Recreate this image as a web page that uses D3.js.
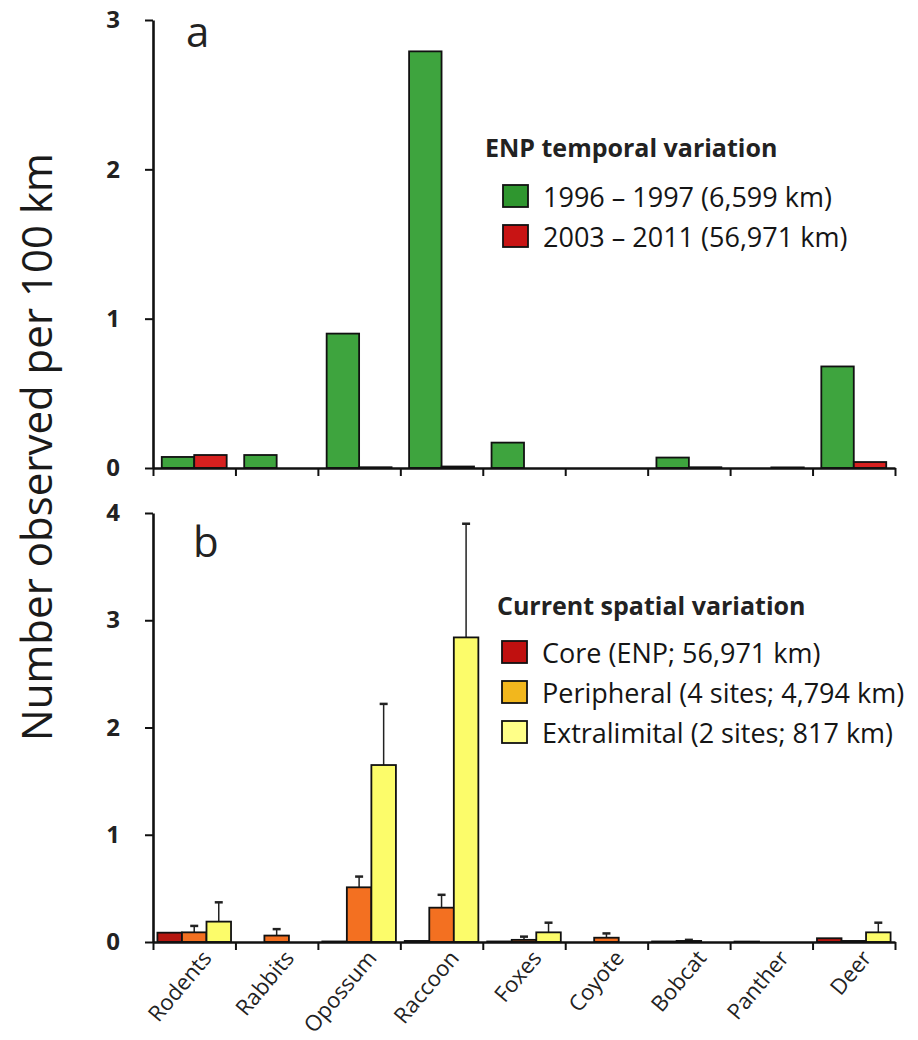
<!DOCTYPE html>
<html>
<head>
<meta charset="utf-8">
<script src="https://cdn.jsdelivr.net/npm/d3@7"></script>
<style>
    body { margin: 0; background: #fff; }
    svg { font-family: 'Open Sans', sans-serif; }
</style>
</head>
<body>
<svg width="918" height="1040"></svg>
<script>
// categories shared by both panels
let categories = ['Rodents', 'Rabbits', 'Opossum', 'Raccoon', 'Foxes', 'Coyote', 'Bobcat', 'Panther', 'Deer'];

// panel a - ENP temporal variation
let seriesA = ['1996 – 1997 (6,599 km)', '2003 – 2011 (56,971 km)'];
let values1996 = [0.074, 0.087, 0.9, 2.79, 0.17, 0, 0.07, 0, 0.68];
let values2003 = [0.087, 0, 0.005, 0.01, 0, 0, 0.005, 0.004, 0.04];
let ticksA = [0, 1, 2, 3];

// panel b - current spatial variation
let seriesB = ['Core (ENP; 56,971 km)', 'Peripheral (4 sites; 4,794 km)', 'Extralimital (2 sites; 817 km)'];
let valuesCore = [0.087, 0, 0.005, 0.01, 0.005, 0, 0.005, 0.004, 0.035];
let valuesPeripheral = [0.09, 0.06, 0.51, 0.32, 0.02, 0.04, 0.01, 0, 0.01];
let errPeripheral = [0.06, 0.06, 0.1, 0.12, 0.03, 0.04, 0.01, 0, 0];
let valuesExtralimital = [0.19, 0, 1.65, 2.84, 0.09, 0, 0, 0, 0.09];
let errExtralimital = [0.18, 0, 0.57, 1.06, 0.09, 0, 0, 0, 0.09];
let ticksB = [0, 1, 2, 3, 4];

function main() {
    let svg = d3.select('svg'),
        left = 153,
        right = 895;

    let colorsA = ['#3ea43e', '#d7201f'],
        colorsB = ['#b5160f', '#f37021', '#fcfc6a'],
        legendColorsA = ['#2f962f', '#c81414'],
        legendColorsB = ['#c0100f', '#f2b71d', '#ffff88'];

    //Scales
    let x0 = d3.scaleBand().domain(categories).range([left, right]).padding(0),
        xEdge = d3.scaleLinear().domain([0, categories.length]).range([left, right]),
        xA = d3.scaleBand().domain(seriesA).range([0, x0.bandwidth()]).paddingOuter(0.27),
        xB = d3.scaleBand().domain(seriesB).range([0, x0.bandwidth()]).paddingOuter(0.18),
        yA = d3.scaleLinear().domain([0, 3]).range([468, 20]),
        yB = d3.scaleLinear().domain([0, 4]).range([942, 513]);

    //Build rows
    let rowsA = [];
    categories.forEach((c, i) => {
        rowsA.push({ cat: c, s: seriesA[0], v: values1996[i], color: colorsA[0] });
        rowsA.push({ cat: c, s: seriesA[1], v: values2003[i], color: colorsA[1] });
    });
    let rowsB = [];
    categories.forEach((c, i) => {
        rowsB.push({ cat: c, s: seriesB[0], v: valuesCore[i], e: 0, color: colorsB[0] });
        rowsB.push({ cat: c, s: seriesB[1], v: valuesPeripheral[i], e: errPeripheral[i], color: colorsB[1] });
        rowsB.push({ cat: c, s: seriesB[2], v: valuesExtralimital[i], e: errExtralimital[i], color: colorsB[2] });
    });

    //Panel a bars
    svg.append('g')
        .selectAll('rect')
        .data(rowsA.filter((d) => d.v > 0))
        .enter()
        .append('rect')
        .attr('x', (d) => x0(d.cat) + xA(d.s))
        .attr('y', (d) => yA(d.v))
        .attr('width', xA.bandwidth())
        .attr('height', (d) => yA(0) - yA(d.v))
        .attr('fill', (d) => d.color)
        .attr('stroke', '#111')
        .attr('stroke-width', 1.8);

    //Panel b error bars
    let errs = svg.append('g')
        .selectAll('g')
        .data(rowsB.filter((d) => d.e > 0))
        .enter()
        .append('g')
        .attr('stroke', '#222')
        .attr('stroke-width', 1.5);
    errs.append('line')
        .attr('x1', (d) => x0(d.cat) + xB(d.s) + xB.bandwidth() / 2)
        .attr('x2', (d) => x0(d.cat) + xB(d.s) + xB.bandwidth() / 2)
        .attr('y1', (d) => yB(d.v))
        .attr('y2', (d) => yB(d.v + d.e));
    errs.append('line')
        .attr('x1', (d) => x0(d.cat) + xB(d.s) + xB.bandwidth() / 2 - 4)
        .attr('x2', (d) => x0(d.cat) + xB(d.s) + xB.bandwidth() / 2 + 4)
        .attr('y1', (d) => yB(d.v + d.e))
        .attr('y2', (d) => yB(d.v + d.e))
        .attr('stroke-width', 2.5);

    //Panel b bars
    svg.append('g')
        .selectAll('rect')
        .data(rowsB.filter((d) => d.v > 0))
        .enter()
        .append('rect')
        .attr('x', (d) => x0(d.cat) + xB(d.s))
        .attr('y', (d) => yB(d.v))
        .attr('width', xB.bandwidth())
        .attr('height', (d) => yB(0) - yB(d.v))
        .attr('fill', (d) => d.color)
        .attr('stroke', '#111')
        .attr('stroke-width', 1.8);

    //Axes
    function styleAxis(g) {
        g.select('.domain').attr('stroke', '#111').attr('stroke-width', 2.6);
        g.selectAll('.tick line').attr('stroke', '#111').attr('stroke-width', 2);
        g.selectAll('.tick text')
            .attr('fill', '#222')
            .style('font-size', '24px')
            .style('font-weight', 'bold')
            .style('font-family', "'Open Sans', sans-serif");
    }

    [[yA, ticksA], [yB, ticksB]].forEach(([y, t]) => {
        svg.append('g')
            .attr('transform', 'translate(' + left + ',0)')
            .call(d3.axisLeft(y).tickValues(t).tickFormat(d3.format('d')).tickSize(8).tickPadding(25).tickSizeOuter(0))
            .call(styleAxis);
        svg.append('g')
            .attr('transform', 'translate(0,' + y(0) + ')')
            .call(d3.axisBottom(xEdge).tickValues(d3.range(categories.length + 1)).tickFormat('').tickSize(8).tickSizeOuter(0))
            .call(styleAxis);
    });

    //Category labels
    svg.append('g')
        .selectAll('text')
        .data(categories)
        .enter()
        .append('text')
        .attr('transform', (d) => 'translate(' + (x0(d) + x0.bandwidth() / 2 + 6) + ',' + (yB(0) + 6) + ') rotate(-50)')
        .attr('text-anchor', 'end')
        .attr('dy', '0.75em')
        .attr('fill', '#222')
        .style('font-size', '22px')
        .text((d) => d);

    //Panel letters
    svg.append('text').attr('x', 186).attr('y', 47).style('font-size', '42px').attr('fill', '#222').text('a');
    svg.append('text').attr('x', 193).attr('y', 557).style('font-size', '42px').attr('fill', '#222').text('b');

    //Y title
    svg.append('text')
        .attr('transform', 'translate(52,447) rotate(-90)')
        .attr('text-anchor', 'middle')
        .attr('fill', '#1a1a1a')
        .style('font-size', '42px')
        .text('Number observed per 100 km');

    //Legends
    function legend(x, y, title, labels, colors, swatchX, textX, rowY) {
        let g = svg.append('g').attr('transform', 'translate(' + x + ',' + y + ')');
        g.append('text')
            .attr('fill', '#222')
            .style('font-size', '25px')
            .style('font-weight', 'bold')
            .text(title);
        labels.forEach((l, i) => {
            g.append('rect')
                .attr('x', swatchX)
                .attr('y', rowY + i * 40)
                .attr('width', 25)
                .attr('height', 22)
                .attr('fill', colors[i])
                .attr('stroke', '#111')
                .attr('stroke-width', 1.8);
            g.append('text')
                .attr('x', textX)
                .attr('y', rowY + 22 + i * 40)
                .attr('fill', '#151515')
                .style('font-size', '27px')
                .text(l);
        });
    }
    legend(485, 157, 'ENP temporal variation', seriesA, legendColorsA, 18, 58, 28);
    legend(497, 615, 'Current spatial variation', seriesB, legendColorsB, 5, 45, 26);
}

main();
</script>
</body>
</html>
